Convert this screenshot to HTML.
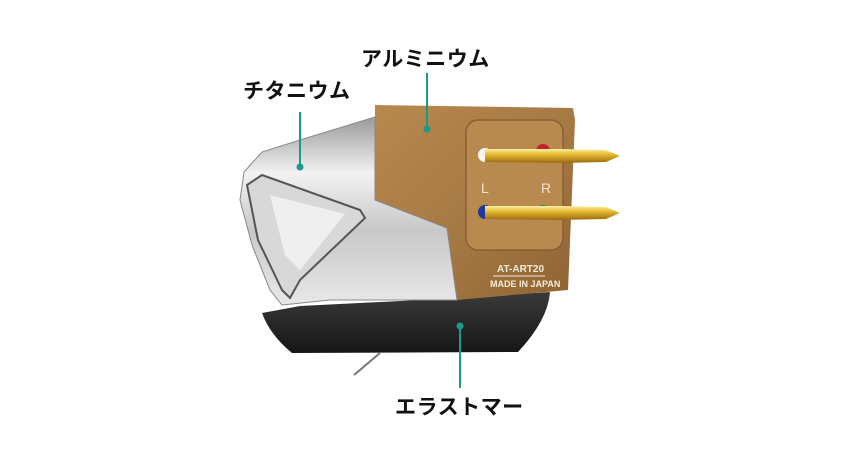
<!DOCTYPE html>
<html><head><meta charset="utf-8"><style>
html,body{margin:0;padding:0;background:#fff;width:850px;height:450px;overflow:hidden}
svg{display:block}
.lb{font-family:"Liberation Sans","Noto Sans CJK JP",sans-serif;font-weight:bold;font-size:21px;fill:#111;letter-spacing:0.5px}
</style></head><body>
<svg width="850" height="450" viewBox="0 0 850 450">
<defs>
<linearGradient id="gold" x1="0" y1="0" x2="1" y2="1">
<stop offset="0" stop-color="#b8894e"/><stop offset="0.5" stop-color="#a77a45"/><stop offset="1" stop-color="#8f6433"/></linearGradient>
<linearGradient id="silver" x1="0" y1="0" x2="0" y2="1">
<stop offset="0" stop-color="#9a9a9a"/><stop offset="0.3" stop-color="#f2f2f2"/><stop offset="0.6" stop-color="#c8c8c8"/><stop offset="1" stop-color="#e8e8e8"/></linearGradient>
<linearGradient id="black" x1="0" y1="0" x2="0" y2="1">
<stop offset="0" stop-color="#3a3a3a"/><stop offset="1" stop-color="#161616"/></linearGradient>
<linearGradient id="pin" x1="0" y1="0" x2="0" y2="1">
<stop offset="0" stop-color="#fff0a0"/><stop offset="0.4" stop-color="#e4b830"/><stop offset="1" stop-color="#9a6a10"/></linearGradient>
</defs>
<path d="M262 313 L300 306 L460 298 L550 292 Q548 320 518 352 L292 353 Q270 335 262 313 Z" fill="url(#black)"/>
<path d="M375 105 L573 108 L575 120 L568 290 L457 300 L447 228 L375 200 Z" fill="url(#gold)"/>
<path d="M375 117 L300 140 L262 152 L244 172 L240 200 L252 245 L270 290 L282 305 L330 300 L457 300 L447 228 L375 200 Z" fill="url(#silver)" stroke="#888" stroke-width="1"/>
<path d="M247 185 L262 175 L360 210 L365 218 L300 280 L290 298 L282 290 L258 240 Z" fill="#d8d8d8" stroke="#555" stroke-width="2"/>
<path d="M270 195 L345 214 L300 270 L285 255 Z" fill="#efefef"/>
<rect x="466" y="120" width="97" height="130" rx="12" fill="#b88a50" stroke="#8a5e30" stroke-width="1.5"/>
<circle cx="485" cy="155" r="7" fill="#f4f4f0"/>
<circle cx="543" cy="151" r="7" fill="#c8202a"/>
<circle cx="485" cy="212" r="7" fill="#1e3a9a"/>
<circle cx="543" cy="212" r="7" fill="#109070"/>
<path d="M485 149 L560 149 L606 150 L620 156 L606 162 L560 163 L485 162 Z" fill="url(#pin)"/>
<path d="M485 206 L560 206 L606 207 L620 213 L606 219 L560 220 L485 219 Z" fill="url(#pin)"/>
<text x="481" y="193" font-family="Liberation Sans,sans-serif" font-size="14" fill="#f2e6d0">L</text>
<text x="541" y="193" font-family="Liberation Sans,sans-serif" font-size="14" fill="#f2e6d0">R</text>
<text x="497" y="272" font-family="Liberation Sans,sans-serif" font-size="10" font-weight="bold" fill="#f5ecd8">AT-ART20</text>
<line x1="493" y1="276" x2="545" y2="276" stroke="#f5ecd8" stroke-width="1"/>
<text x="490" y="287" font-family="Liberation Sans,sans-serif" font-size="9" font-weight="bold" fill="#f5ecd8">MADE IN JAPAN</text>
<line x1="354" y1="375" x2="380" y2="353" stroke="#777" stroke-width="2"/>
<text class="lb" x="243" y="98">チタニウム</text>
<text class="lb" x="361" y="66">アルミニウム</text>
<text class="lb" x="395" y="414">エラストマー</text>
<g stroke="#1a9a88" stroke-width="2">
<line x1="300" y1="112" x2="300" y2="167"/>
<line x1="427" y1="73" x2="427" y2="128"/>
<line x1="460" y1="326" x2="460" y2="388"/>
</g>
<g fill="#1a9a88">
<circle cx="300" cy="167" r="3.5"/><circle cx="427" cy="129" r="3.5"/><circle cx="460" cy="326" r="3.5"/>
</g>
</svg>
</body></html>
